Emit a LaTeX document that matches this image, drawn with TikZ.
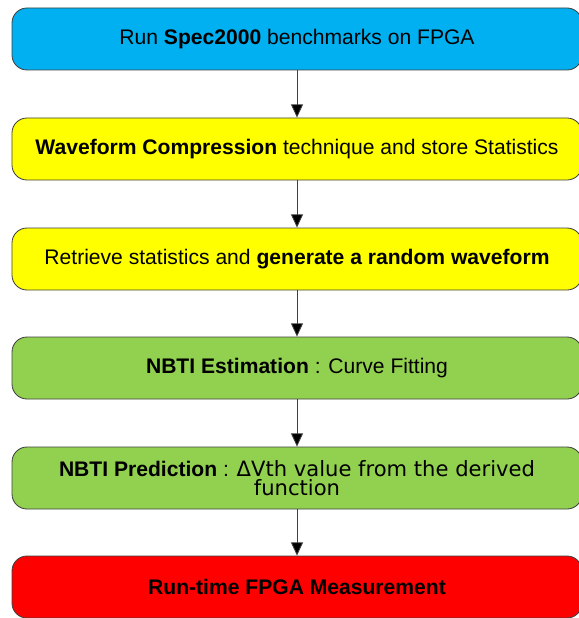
\documentclass[tikz,border=0pt]{standalone}
\usepackage{fontspec}
\setmainfont{Liberation Sans}
\newfontfamily\dejavu{DejaVu Sans}
\usetikzlibrary{arrows.meta,positioning}
\definecolor{runblue}{RGB}{0,176,240}
\definecolor{stepyellow}{RGB}{255,255,0}
\definecolor{stepgreen}{RGB}{146,208,80}
\definecolor{stepred}{RGB}{255,0,0}
\begin{document}
\begin{tikzpicture}[stage/.style={draw=black!75, line width=0.6pt, rounded corners=0.375cm,
            minimum width=14.25cm, minimum height=1.55cm, align=center,
            font=\fontsize{15}{13.5}\selectfont},
        flow/.style={draw=black!75, line width=0.6pt, -{Triangle[width=0.3cm,length=0.33cm,fill=black]}}]
        \useasboundingbox (0,0) rectangle (14.45,-15.45);
        \node[stage, fill=runblue] (run) at (7.425,-0.975) {Run \textbf{Spec2000} benchmarks on FPGA};
        \node[stage, fill=stepyellow] (compress) at (7.425,-3.725) {\textbf{Waveform Compression} technique and store Statistics};
        \node[stage, fill=stepyellow] (retrieve) at (7.425,-6.475) {Retrieve statistics and \textbf{generate a random waveform}};
        \node[stage, fill=stepgreen] (estimate) at (7.425,-9.2) {\textbf{NBTI Estimation} : Curve Fitting};
        \node[stage, fill=stepgreen] (predict) at (7.425,-11.95) {\textbf{NBTI Prediction} : {\dejavu ΔVth value from the derived}\\{\dejavu function}};
        \node[stage, fill=stepred] (measure) at (7.425,-14.675) {\textbf{Run-time FPGA Measurement}};
        
        \draw[flow] (run) -- (compress);
        \draw[flow] (compress) -- (retrieve);
        \draw[flow] (retrieve) -- (estimate);
        \draw[flow] (estimate) -- (predict);
        \draw[flow] (predict) -- (measure);
    \end{tikzpicture}
\end{document}
